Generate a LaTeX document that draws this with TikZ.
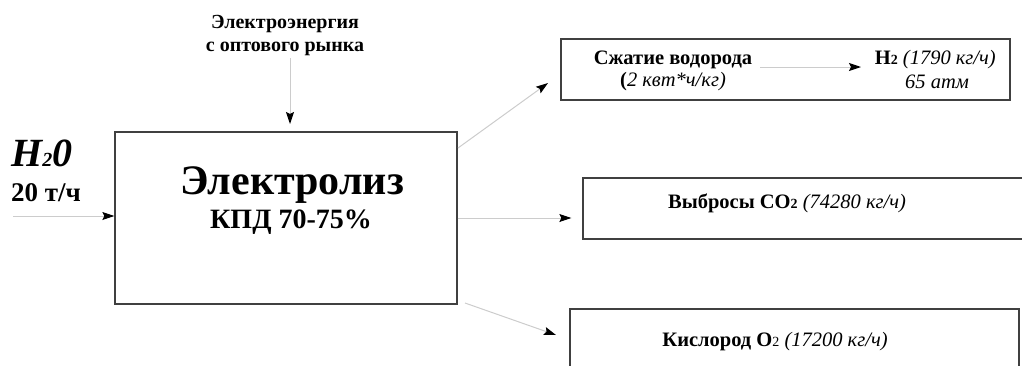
\documentclass[tikz,border=0pt]{standalone}
\usepackage{fontspec}
\setmainfont{Liberation Serif}
\usetikzlibrary{arrows.meta,calc}
\newcommand{\fs}[1]{\fontsize{#1}{#1}\selectfont}
\newcommand{\sm}[1]{{\fontsize{14}{14}\selectfont #1}}
\begin{document}
\begin{tikzpicture}[x=1pt,y=-1pt,
  blk/.style={draw=black!75,line width=1.3pt,rectangle,inner sep=0pt},
  lbl/.style={inner sep=0pt,align=center,text=black},
  flow/.style={draw=black!20,line width=1pt,-{Stealth[length=12pt,width=8pt,inset=2pt,color=black]}}]
\useasboundingbox (0,0) rectangle (1022,365);
% boxes
\node[blk,minimum width=342pt,minimum height=172pt] (main) at (286,218) {};
\node[blk,minimum width=449pt,minimum height=61pt] (comp) at (785.5,69.5) {};
\node[blk,minimum width=460pt,minimum height=61pt] (co2) at (813,208.5) {};
\node[blk,minimum width=449pt,minimum height=61pt] (oxy) at (794.5,339.5) {};
% texts
\node[lbl,font=\fs{42}\bfseries] (t1) at (292,185) {Электролиз};
\node[lbl,font=\fs{28}\bfseries] (t2) at (291,222) {КПД 70-75\%};
\node[lbl,font=\fs{20}\bfseries] (el) at (285,36) {Электроэнергия\\[3pt]с оптового рынка};
\node[lbl,font=\fs{40}\bfseries\itshape,anchor=west] (h2o) at (11,153) {H{\fs{20}2}0};
\node[lbl,font=\fs{27}\bfseries,anchor=west] (rate) at (11,193) {20 т/ч};
\node[lbl,font=\fs{20.5}\bfseries] (cmp) at (673,60) {Сжатие водорода};
\node[lbl,font=\fs{20.5}] (kwh) at (673,82) {\textbf{(}\textit{2 квт*ч/кг)}};
\node[lbl,font=\fs{20.5},anchor=east] (h2) at (996,60) {\textbf{H\sm{2}} \textit{(1790 кг/ч)}};
\node[lbl,font=\fs{20.5}\itshape] (atm) at (937,82) {65 атм};
\node[lbl,font=\fs{20.5}] (co2t) at (787,203) {\textbf{Выбросы CO\sm{2}} \textit{(74280 кг/ч)}};
\node[lbl,font=\fs{20.5}] (oxt) at (775,342) {\textbf{Кислород O}\sm{2} \textit{(17200 кг/ч)}};
% coordinates
\coordinate (h2oin) at (13,216);
\coordinate (elin) at (290,58);
\coordinate (elend) at (290,124);
\coordinate (o1) at (458,148);
\coordinate (e1) at (548,83);
\coordinate (o3) at (465,303);
\coordinate (e3) at (556,335);
\coordinate (c1) at (760,67);
\coordinate (c2) at (861,67);
% connectors
\draw[flow] (h2oin) -- (h2oin -| main.west);
\draw[flow] (elin) -- (elend);
\draw[flow] (o1) -- (e1);
\draw[flow,shorten >=11pt] (main.east) -- (co2.west |- main.east);
\draw[flow] (o3) -- (e3);
\draw[flow] (c1) -- (c2);
\end{tikzpicture}
\end{document}
